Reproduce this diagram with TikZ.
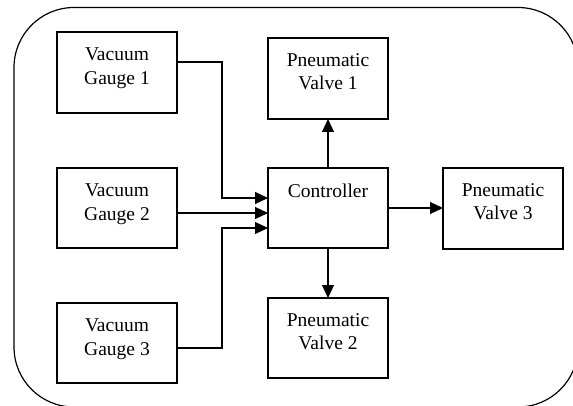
\documentclass[tikz,border=0pt]{standalone}
\usepackage{fontspec}
\setmainfont{Liberation Serif}
\usetikzlibrary{arrows.meta,calc}
\begin{document}
\begin{tikzpicture}[x=1pt,y=-1pt,
  box/.style={draw,line width=1.1pt,minimum width=120pt,inner sep=0pt,outer sep=0pt},
  lbl/.style={anchor=north,align=center,inner sep=0pt,font=\fontsize{19.5}{23.3}\selectfont},
  conn/.style={line width=1.1pt,-{Triangle[length=13pt,width=12pt]}},
  plain/.style={line width=1.1pt}]
\useasboundingbox (0,0) rectangle (573,406);
\clip (0,0) rectangle (573,406);
\draw[line width=1.2pt,rounded corners=60pt] (14,7.5) rectangle (578,407);
% boxes
\node[box,minimum height=81pt] (g1) at (117,72.5) {};
\node[box,minimum height=80pt] (g2) at (117,208) {};
\node[box,minimum height=80pt] (g3) at (117,343) {};
\node[box,minimum height=81pt] (v1) at (328,78.5) {};
\node[box,minimum height=80pt] (c) at (328,208) {};
\node[box,minimum height=80pt] (v2) at (328,338) {};
\node[box,minimum height=81pt] (v3) at (503,208.5) {};
% texts
\node[lbl] (tg1) at ($(g1.north)+(0,16)$) {Vacuum\\Gauge 1};
\node[lbl] (tg2) at ($(g2.north)+(0,16)$) {Vacuum\\Gauge 2};
\node[lbl] (tg3) at ($(g3.north)+(0,16)$) {Vacuum\\Gauge 3};
\node[lbl] (tv1) at ($(v1.north)+(0,15.5)$) {Pneumatic\\Valve 1};
\node[lbl] (tc) at ($(c.north)+(0,15.5)$) {Controller};
\node[lbl] (tv2) at ($(v2.north)+(0,15.5)$) {Pneumatic\\Valve 2};
\node[lbl] (tv3) at ($(v3.north)+(0,15.5)$) {Pneumatic\\Valve 3};
% connectors
\coordinate (j1) at (222,62);
\coordinate (k1) at (222,198);
\coordinate (k2) at (222,213);
\coordinate (j3) at (222,348);
\coordinate (k3) at (222,228);
\draw[conn] (g1.east |- j1) -- (j1) -- (k1) -- (c.west |- k1);
\draw[conn] (g2.east |- k2) -- (c.west |- k2);
\draw[conn] (g3.east |- j3) -- (j3) -- (k3) -- (c.west |- k3);
\draw[conn] (c.east) -- (c.east -| v3.west);
\draw[conn] (c.north) -- (v1.south);
\draw[conn] (c.south) -- (v2.north);
\end{tikzpicture}
\end{document}
